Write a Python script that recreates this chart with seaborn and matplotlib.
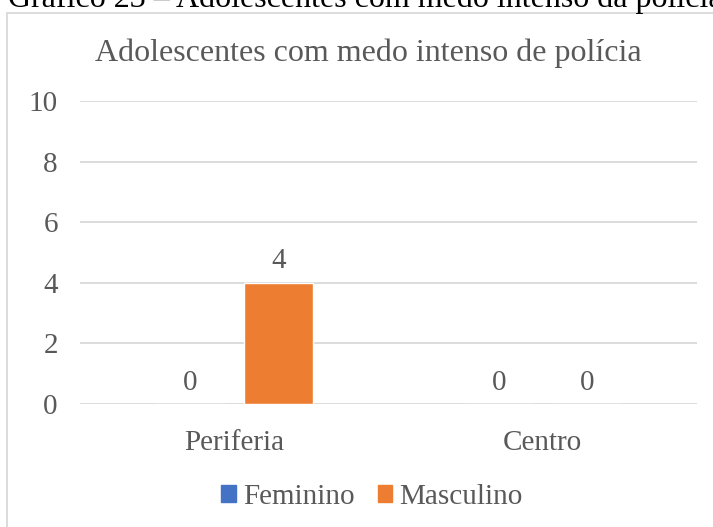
import matplotlib
matplotlib.use("Agg")
import matplotlib.pyplot as plt
import matplotlib.patches as mpatches
import seaborn as sns
import pandas as pd

regioes = ["Periferia", "Centro"]
feminino = [0, 0]
masculino = [4, 0]
series = ["Feminino", "Masculino"]
cores = ["#4472C4", "#ED7D31"]
y_ticks = [0, 2, 4, 6, 8, 10]

df = pd.DataFrame({
    "Região": regioes * 2,
    "Sexo": [series[0]] * len(regioes) + [series[1]] * len(regioes),
    "Valor": feminino + masculino,
})

sns.set_theme(style="white")
plt.rcParams["font.family"] = ["Liberation Serif", "DejaVu Serif"]
texto = "#595959"
fs = 21

W, H = 713, 527
fig = plt.figure(figsize=(W / 100, H / 100), dpi=100)
ax = fig.add_axes([80 / W, 1 - 404 / H, (697 - 80) / W, (404 - 101) / H])

sns.barplot(data=df, x="Região", y="Valor", hue="Sexo", hue_order=series,
            palette=cores, order=regioes, width=0.572, gap=0.217,
            saturation=1, ax=ax, legend=False)

ax.set_ylim(0, 10)
ax.set_yticks(y_ticks)
ax.set_xlim(-0.5, 1.5)
ax.grid(axis="y", color="#D9D9D9", linewidth=1.3)
ax.set_axisbelow(True)
for s in ax.spines.values():
    s.set_visible(False)
ax.set_xlabel("")
ax.set_ylabel("")
ax.tick_params(axis="both", length=0, labelsize=fs, labelcolor=texto)
ax.tick_params(axis="y", pad=16)
ax.tick_params(axis="x", pad=19)

for cont in ax.containers:
    ax.bar_label(cont, fmt="%d", padding=6, fontsize=fs, color=texto)

fig.text(368 / W, 1 - 53 / H, "Adolescentes com medo intenso de polícia",
         ha="center", va="center", fontsize=23, color=texto)

handles = [mpatches.Patch(color=c, label=l) for c, l in zip(cores, series)]
leg = fig.legend(handles=handles, loc="center", bbox_to_anchor=(372 / W, 1 - 497 / H),
                 ncol=2, frameon=False, fontsize=fs, handlelength=0.5,
                 handleheight=0.5, handletextpad=0.25, columnspacing=0.8)
for t in leg.get_texts():
    t.set_color(texto)

# chart frame
fig.add_artist(mpatches.Rectangle((6.5 / W, -0.1), 1.2, 1 - 12.5 / H + 0.1,
                                  transform=fig.transFigure, fill=False,
                                  edgecolor="#D9D9D9", linewidth=1.3))

fig.text(8 / W, 1 - 7 / H, "Gráfico 23 – Adolescentes com medo intenso da polícia",
         ha="left", va="baseline", fontsize=23, color="black")

fig.savefig("out.png", dpi=100)
